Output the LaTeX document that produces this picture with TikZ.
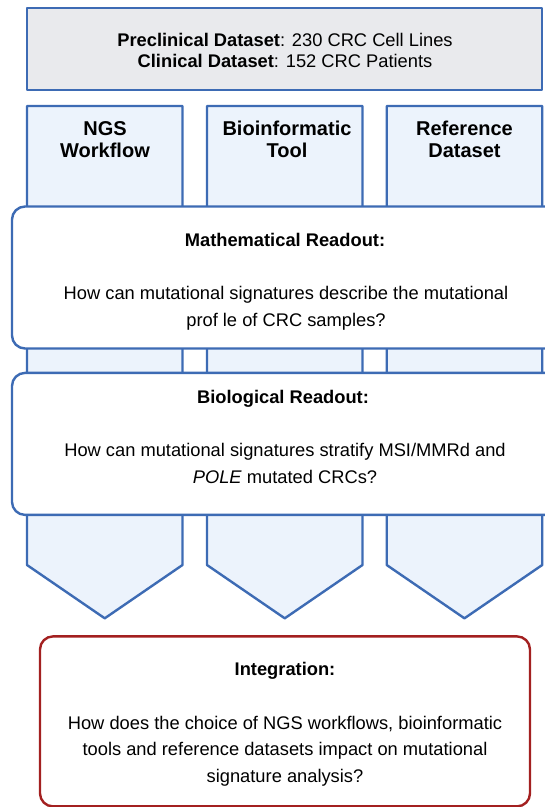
\documentclass[tikz,border=0pt]{standalone}
\usepackage{fontspec}
\setmainfont{Liberation Sans}
\definecolor{frameblue}{RGB}{61,107,180}
\definecolor{colfill}{RGB}{236,243,252}
\definecolor{datagray}{RGB}{233,234,237}
\definecolor{framered}{RGB}{163,32,32}

\begin{document}
\begin{tikzpicture}[x=1pt, y=-1pt,
    frame/.style={draw=frameblue, line width=2.4pt, line join=round},
    dataset/.style={frame, fill=datagray, minimum width=515pt,
      minimum height=82pt, inner sep=0pt},
    column/.style={frame, fill=colfill},
    readout/.style={frame, fill=white, rounded corners=13pt,
      minimum width=560pt, minimum height=142pt, inner sep=0pt},
    integ/.style={draw=framered, line width=2.4pt, fill=white,
      rounded corners=13pt, minimum width=490pt, minimum height=170pt,
      inner sep=0pt},
    coltitle/.style={font=\fontsize{20}{22}\selectfont\bfseries,
      align=center, anchor=base, inner sep=0pt},
    txt/.style={font=\fontsize{18.3}{26.7}\selectfont, align=center,
      anchor=base, inner sep=0pt},
    head/.style={txt, font=\fontsize{18.3}{26.7}\selectfont\bfseries},
  ]
  \clip (0,0) rectangle (545,807);

  % --- three tool columns (behind the readouts) ---
  \foreach \xl in {27, 207, 386.7}
    \draw[column] (\xl,106) -- ++(155.5,0) -- ++(0,459)
      -- ++(-77.75,53.3) -- ++(-77.75,-53.3) -- cycle;
  % (base anchor = last line)
  \node[coltitle] (ngs) at (105,157) {NGS\\Workflow};
  \node[coltitle] (tool) at (287,157) {Bioinformatic\\Tool};
  \node[coltitle] (refset) at (464.5,157) {Reference\\Dataset};

  % --- datasets ---
  \node[dataset] (data) at (284.5,48.75) {};
  \node[txt, font=\fontsize{18.3}{21}\selectfont] (datatext) at (285,67.5)
    {\textbf{Preclinical Dataset}: 230 CRC Cell Lines\\
     \textbf{Clinical Dataset}: 152 CRC Patients};

  % --- mathematical readout ---
  \node[readout] (math) at (292,277.5) {};
  \node[head] (mathhead) at (285,246.5) {Mathematical Readout:};
  \node[txt] (mathq) at (286,326.5)
    {How can mutational signatures describe the mutational\\
     prof le of CRC samples?};

  % --- biological readout ---
  \node[readout] (bio) at (292,443.9) {};
  \node[head] (biohead) at (283,403.2) {Biological Readout:};
  \node[txt] (bioq) at (285,483.2)
    {How can mutational signatures stratify MSI/MMRd and\\
     \textit{POLE} mutated CRCs?};

  % --- integration ---
  \node[integ] (integ) at (285,721.4) {};
  \node[head] (inthead) at (285,675.5) {Integration:};
  \node[txt] (intq) at (285,782.5)
    {How does the choice of NGS workflows, bioinformatic\\
     tools and reference datasets impact on mutational\\
     signature analysis?};

\end{tikzpicture}
\end{document}
